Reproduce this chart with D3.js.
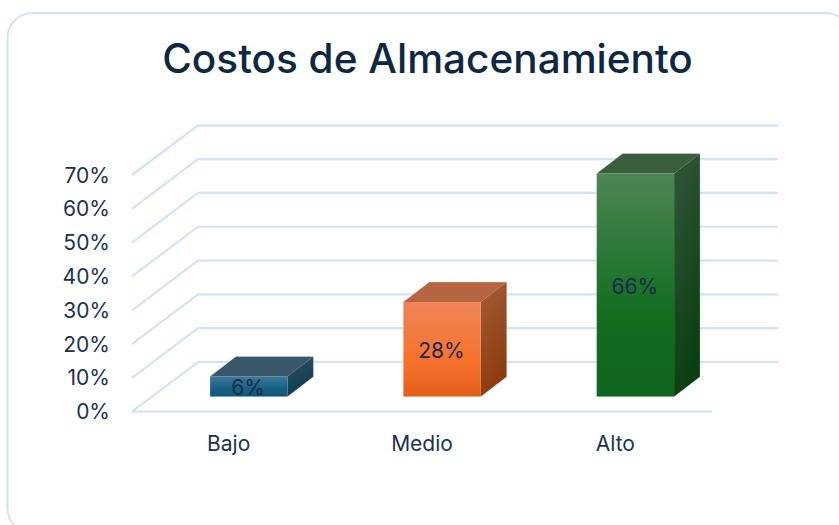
<!DOCTYPE html>
<html><head><meta charset="utf-8">
<script src="https://cdnjs.cloudflare.com/ajax/libs/d3/7.8.5/d3.min.js"></script>
<style>html,body{margin:0;padding:0;background:#fff;overflow:hidden}svg{display:block}text{font-family:Inter,"Noto Sans",sans-serif}</style>
</head><body><div id="c"></div>
<script>
const categories = ["Bajo","Medio","Alto"];
const values = [6,28,66];
const ticks = [0,10,20,30,40,50,60,70];
const frontColors = [["#41789a","#156082","#105778"],["#f08458","#f7722b","#e25e19"],["#4e8556","#126e20","#10651c"]];
const sideColors = [["#34505f","#0c3c52"],["#a55c38","#8c3c0e"],["#32583a","#0a3f11"]];
const topColors = ["#3a586c","#b56541","#3a5f3c"];
const title = "Costos de Almacenamiento";

const W=839,H=525;
const svg=d3.select("#c").append("svg").attr("width",W).attr("height",H);
const defs=svg.append("defs");
const y=d3.scaleLinear().domain([0,70]).range([411.7,175]);
const x=d3.scaleBand().domain(categories).range([132,712]);
const depthX=66, depthY=-49.7, barDX=26, barDY=-20, barW=77.5, barOff=20, barBase=-15;
const grid="#d2e3f5";

svg.append("rect").attr("x",7.5).attr("y",13).attr("width",843).attr("height",520).attr("rx",25)
  .attr("fill","#fff").attr("stroke",grid).attr("stroke-width",2);

svg.append("text").attr("x",427.5).attr("y",73).attr("text-anchor","middle")
  .attr("font-size",40.5).attr("font-weight",550).attr("fill","#0e2841").text(title);

// gridlines
svg.append("g").selectAll("path").data(ticks).join("path")
  .attr("fill","none").attr("stroke",grid).attr("stroke-width",2.2)
  .attr("d",d=>{const p=d3.path();p.moveTo(132,y(d));p.lineTo(132+depthX,y(d)+depthY);p.lineTo(778,y(d)+depthY);return p.toString();});
svg.append("line").attr("x1",132).attr("x2",712).attr("y1",y(0)).attr("y2",y(0)).attr("stroke",grid).attr("stroke-width",2.2);

// tick labels
svg.append("g").selectAll("text").data(ticks).join("text")
  .attr("x",110).attr("y",d=>y(d)).attr("dy","0.36em").attr("text-anchor","end")
  .attr("font-size",21).attr("fill","#1b3350").text(d=>d+"%");
svg.append("g").selectAll("text").data(categories).join("text")
  .attr("x",d=>x(d)+x.bandwidth()/2).attr("y",443).attr("dy","0.36em").attr("text-anchor","middle")
  .attr("font-size",21).attr("fill","#1b3350").text(d=>d);

// gradients
categories.forEach((c,i)=>{
  const f=defs.append("linearGradient").attr("id","f"+i).attr("x1",0).attr("y1",0).attr("x2",0).attr("y2",1);
  frontColors[i].forEach((col,k)=>f.append("stop").attr("offset",[0,0.62,1][k]).attr("stop-color",col));
  const s=defs.append("linearGradient").attr("id","s"+i).attr("x1",0).attr("y1",0).attr("x2",0.3).attr("y2",1);
  sideColors[i].forEach((col,k)=>s.append("stop").attr("offset",k).attr("stop-color",col));
});

// bars
const edge="rgba(255,255,255,0.25)";
const bars=svg.append("g").selectAll("g").data(categories).join("g");
const L=d=>x(d)+x.bandwidth()/2+barOff-barW/2;
const T=i=>y(values[i])+barBase;
const B=barBase+y(0);
bars.append("path").attr("fill",(d,i)=>`url(#s${i})`).attr("d",(d,i)=>{
  const r=L(d)+barW;return `M${r},${T(i)}L${r+barDX},${T(i)+barDY}L${r+barDX},${B+barDY}L${r},${B}Z`;});
bars.append("path").attr("fill",(d,i)=>topColors[i]).attr("d",(d,i)=>{
  const l=L(d),t=T(i);return `M${l},${t}L${l+barDX},${t+barDY}L${l+barW+barDX},${t+barDY}L${l+barW},${t}Z`;});
bars.append("rect").attr("x",L).attr("y",(d,i)=>T(i)).attr("width",barW).attr("height",(d,i)=>B-T(i)).attr("fill",(d,i)=>`url(#f${i})`);
// outer silhouette edge only
bars.append("path").attr("fill","none").attr("stroke",edge).attr("d",(d,i)=>{
  const l=L(d),r=l+barW,t=T(i);
  return `M${l},${B}L${l},${t}L${l+barDX},${t+barDY}L${r+barDX},${t+barDY}L${r+barDX},${B+barDY}L${r},${B}Z`;});
bars.append("text").attr("x",d=>L(d)+barW/2-.5).attr("y",(d,i)=>(T(i)+B)/2+1).attr("dy","0.36em")
  .attr("text-anchor","middle").attr("font-size",21).attr("fill","#16294a").text((d,i)=>values[i]+"%");
</script></body></html>
